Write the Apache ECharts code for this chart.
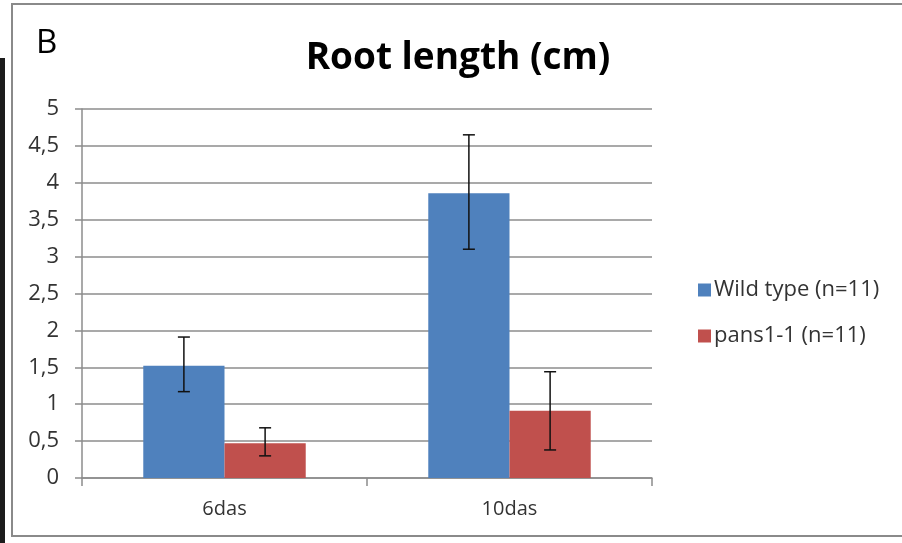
<!DOCTYPE html>
<html><head><meta charset="utf-8">
<script src="https://cdn.jsdelivr.net/npm/echarts@6/dist/echarts.min.js"></script>
<style>html,body{margin:0;padding:0;background:#fff}#c{width:902px;height:543px}</style>
</head><body><div id="c"></div>
<script>
const categories = ['6das', '10das'];
const wildMeans = [1.52, 3.86];
const wildLow = [1.17, 3.10];
const wildHigh = [1.91, 4.65];
const pansMeans = [0.47, 0.91];
const pansLow = [0.30, 0.38];
const pansHigh = [0.68, 1.44];
const seriesNames = ['Wild type (n=11)', 'pans1-1 (n=11)'];
const yTicks = {min: 0, max: 5, interval: 0.5};

const FONT = 'Open Sans';
const GAP = 0.43;
const chart = echarts.init(document.getElementById('c'), null, {renderer: 'canvas'});

function errSeries(low, high, idx) {
  return {
    type: 'custom',
    z: 10,
    silent: true,
    data: categories.map((c, i) => [i, low[i], high[i]]),
    encode: {x: 0, y: [1, 2]},
    renderItem: function (params, api) {
      const band = api.size([1, 0])[0];
      const bw = band * (1 - GAP) / 2;
      const off = (idx === 0 ? -1 : 1) * bw / 2;
      const lo = api.coord([api.value(0), api.value(1)]);
      const hi = api.coord([api.value(0), api.value(2)]);
      const x = lo[0] + off;
      const cw = 6;
      const st = {stroke: '#111', lineWidth: 1.5};
      return {type: 'group', children: [
        {type: 'line', shape: {x1: x, y1: lo[1], x2: x, y2: hi[1]}, style: st},
        {type: 'line', shape: {x1: x - cw, y1: lo[1], x2: x + cw, y2: lo[1]}, style: st},
        {type: 'line', shape: {x1: x - cw, y1: hi[1], x2: x + cw, y2: hi[1]}, style: st}
      ]};
    }
  };
}

chart.setOption({
  animation: false,
  textStyle: {fontFamily: FONT},
  grid: {left: 82, right: 250, top: 109, bottom: 65, containLabel: false},
  legend: {
    orient: 'vertical', left: 693, top: 274,
    itemWidth: 13, itemHeight: 13, itemGap: 24,
    icon: 'rect',
    data: seriesNames,
    textStyle: {fontFamily: FONT, fontSize: 22, lineHeight: 22, color: '#333', padding: [0, 0, 0, -2]}
  },
  xAxis: {
    type: 'category', data: categories,
    axisLine: {lineStyle: {color: '#8c8c8c', width: 1.5}},
    axisTick: {show: true, length: 8, alignWithLabel: false, lineStyle: {color: '#8c8c8c', width: 1.5}},
    axisLabel: {margin: 21, fontSize: 20, color: '#333', fontFamily: FONT}
  },
  yAxis: {
    type: 'value', min: yTicks.min, max: yTicks.max, interval: yTicks.interval,
    axisLine: {show: true, lineStyle: {color: '#8c8c8c', width: 1.5}},
    axisTick: {show: true, length: 7, lineStyle: {color: '#8c8c8c', width: 1.5}},
    splitLine: {lineStyle: {color: '#8c8c8c', width: 1.5}},
    axisLabel: {margin: 23, fontSize: 22, color: '#333', fontFamily: FONT,
      formatter: v => String(v).replace('.', ',')}
  },
  graphic: [
    {type: 'rect', shape: {x: 12, y: 4, width: 920, height: 532}, style: {fill: 'none', stroke: '#8a8a8a', lineWidth: 2}, z: -1},
    {type: 'rect', shape: {x: 0, y: 58, width: 5, height: 490}, style: {fill: '#1c1c1c'}},
    {type: 'text', x: 36, y: 44, style: {text: 'B', fontFamily: FONT, fontSize: 33, fill: '#000', textVerticalAlign: 'middle'}},
    {type: 'text', x: 458, y: 58, style: {text: 'Root length (cm)', fontFamily: FONT, fontWeight: 'bold', fontSize: 37, fill: '#000', textAlign: 'center', textVerticalAlign: 'middle'}}
  ],
  series: [
    {name: seriesNames[0], type: 'bar', data: wildMeans, barGap: '0%', barCategoryGap: (GAP * 100) + '%', itemStyle: {color: '#4F81BD'}},
    {name: seriesNames[1], type: 'bar', data: pansMeans, barGap: '0%', barCategoryGap: (GAP * 100) + '%', itemStyle: {color: '#C0504D'}},
    errSeries(wildLow, wildHigh, 0),
    errSeries(pansLow, pansHigh, 1)
  ]
});
</script></body></html>
